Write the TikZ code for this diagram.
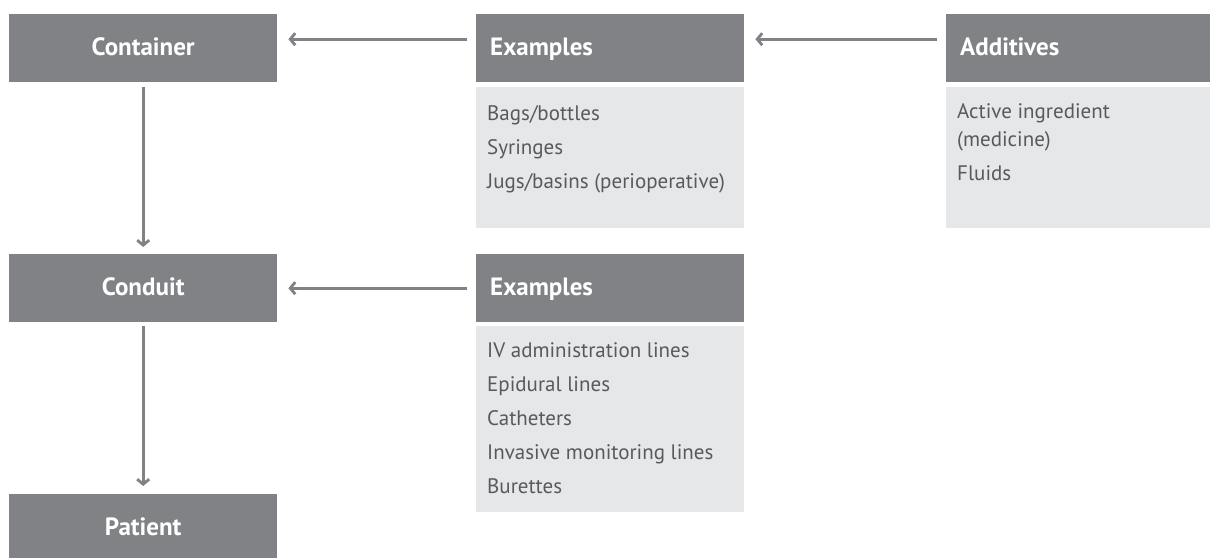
\documentclass[tikz,border=0pt]{standalone}
\usepackage{fontspec}
\setmainfont{PT Sans}
\usetikzlibrary{arrows.meta}
\definecolor{dgrey}{HTML}{808285}
\definecolor{lgrey}{HTML}{E6E7E8}
\definecolor{tgrey}{HTML}{58595B}
\tikzset{
  hdr/.style={fill=dgrey, text=white, minimum width=268pt, minimum height=68pt, inner sep=0pt,
    font=\fontsize{25}{28}\selectfont\bfseries, text height=15pt, text depth=0pt, anchor=north west},
  hdrl/.style={hdr, text width=240pt, align=left},
  bodybox/.style={fill=lgrey, minimum width=268pt, inner sep=0pt, anchor=north west},
  bodytxt/.style={text=tgrey, inner sep=0pt, anchor=north west, align=left,
    font=\fontsize{21}{34}\selectfont},
  arr/.style={draw=dgrey, line width=2.8pt, -{Straight Barb[length=5pt,width=12pt,line width=2.8pt]}},
}
\begin{document}
\begin{tikzpicture}[x=1pt,y=-1pt]
\useasboundingbox (0,0) rectangle (1210,557);
% left column
\node[hdr] (container) at (9,14) {Container};
\node[hdr] (conduit) at (9,254) {Conduit};
\node[hdr] (patient) at (9,494) {Patient};
% middle column
\node[hdrl] (ex1) at (476,14) {Examples};
\node[bodybox, minimum height=141pt] (ex1b) at (476,87) {};
\node[bodytxt] (ex1t) at ([xshift=11pt,yshift=-18pt]ex1b.north west)
  {\rule{0pt}{15pt}Bags/bottles\\Syringes\\Jugs/basins (perioperative)};
\node[hdrl] (ex2) at (476,254) {Examples};
\node[bodybox, minimum height=186pt] (ex2b) at (476,326) {};
\node[bodytxt] (ex2t) at ([xshift=11pt,yshift=-16pt]ex2b.north west)
  {\rule{0pt}{15pt}IV administration lines\\Epidural lines\\Catheters\\Invasive monitoring lines\\Burettes};
% right column
\node[hdrl] (add) at (946,14) {Additives};
\node[bodybox, minimum height=141pt] (addb) at (946,87) {};
\node[bodytxt] (addt) at ([xshift=11pt,yshift=-16pt]addb.north west)
  {\rule{0pt}{15pt}Active ingredient\\[-6pt](medicine)\\Fluids};
% connectors
\draw[arr, shorten <=9pt, shorten >=11pt] ([yshift=9pt]ex1.west) -- ([yshift=9pt]container.east);
\draw[arr, shorten <=9pt, shorten >=11pt] ([yshift=9pt]add.west) -- ([yshift=9pt]ex1.east);
\draw[arr, shorten <=9pt, shorten >=11pt] (ex2.west) -- (conduit.east);
\draw[arr, shorten <=5pt, shorten >=7pt] (container.south) -- (conduit.north);
\draw[arr, shorten <=4pt, shorten >=8pt] (conduit.south) -- (patient.north);
\end{tikzpicture}
\end{document}
